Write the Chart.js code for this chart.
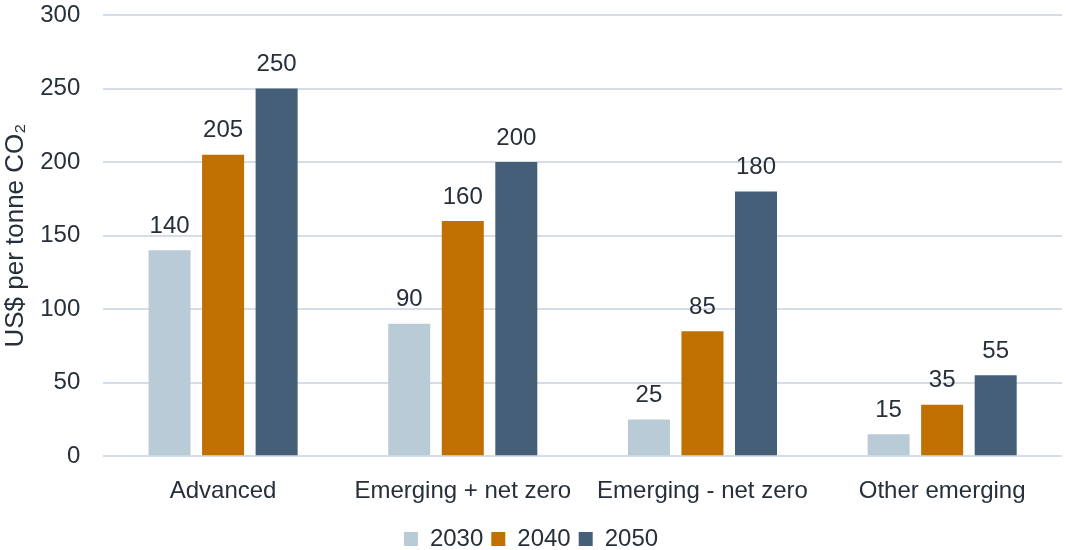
<!DOCTYPE html>
<html>
<head>
<meta charset="utf-8">
<script src="https://cdn.jsdelivr.net/npm/chart.js@4/dist/chart.umd.min.js"></script>
<style>
  html, body { margin: 0; padding: 0; background: #fff; }
  #wrap { width: 1066px; height: 550px; }
</style>
</head>
<body>
<div id="wrap"><canvas id="myChart" width="1066" height="550"></canvas></div>
<script>
// kategories kai times
const categories = ['Advanced', 'Emerging + net zero', 'Emerging - net zero', 'Other emerging'];
const years = ['2030', '2040', '2050'];
const values2030 = [140, 90, 25, 15];
const values2040 = [205, 160, 85, 35];
const values2050 = [250, 200, 180, 55];
const yTicks = [0, 50, 100, 150, 200, 250, 300];

const textColor = '#262f3a';
const fontFamily = '"Liberation Sans", Arial, sans-serif';

// grafei tis times panw apo tis mpares
const valueLabels = {
    id: 'valueLabels',
    afterDatasetsDraw(chart) {
        const ctx = chart.ctx;
        ctx.save();
        ctx.font = '24px ' + fontFamily;
        ctx.fillStyle = textColor;
        ctx.textAlign = 'center';
        ctx.textBaseline = 'bottom';
        chart.data.datasets.forEach((ds, i) => {
            const meta = chart.getDatasetMeta(i);
            meta.data.forEach((bar, j) => {
                ctx.fillText(ds.data[j], bar.x, bar.y - 12);
            });
        });
        ctx.restore();
    }
};

const data = {
    labels: categories,
    datasets: [{
            label: years[0],
            backgroundColor: '#b9cbd6',
            data: values2030,
        },
        {
            label: years[1],
            backgroundColor: '#c07000',
            data: values2040,
        },
        {
            label: years[2],
            backgroundColor: '#455f78',
            data: values2050,
        }
    ]
};

const config = {
    type: 'bar',
    data: data,
    options: {
        responsive: false,
        animation: false,
        layout: { padding: { left: 0, right: 4, top: 0, bottom: -11 } },
        datasets: { bar: { categoryPercentage: 0.67, barPercentage: 0.785 } },
        scales: {
            x: {
                grid: { display: false },
                border: { display: false },
                ticks: { color: textColor, font: { family: fontFamily, size: 24 }, padding: 13 }
            },
            y: {
                min: 0,
                max: 300,
                afterBuildTicks: axis => { axis.ticks = yTicks.map(v => ({ value: v })); },
                // ligotero keno panw kai aristera
                afterFit: axis => {
                    axis.paddingTop = 15;
                    axis.width -= 14;
                },
                grid: { color: '#d5dee6', lineWidth: 2, drawTicks: false },
                border: { display: false },
                ticks: { color: textColor, font: { family: fontFamily, size: 24 }, padding: 23 },
                title: {
                    display: true,
                    text: 'US$ per tonne CO\u2082',
                    color: textColor,
                    font: { family: fontFamily, size: 26 },
                    padding: { top: 0, bottom: 0 }
                }
            }
        },
        plugins: {
            legend: {
                position: 'bottom',
                labels: {
                    color: textColor,
                    font: { family: fontFamily, size: 24 },
                    boxWidth: 14,
                    boxHeight: 14,
                    padding: 8
                }
            },
            tooltip: { enabled: false }
        }
    },
    plugins: [valueLabels]
};

const myChart = new Chart(document.getElementById('myChart'), config);
</script>
</body>
</html>
